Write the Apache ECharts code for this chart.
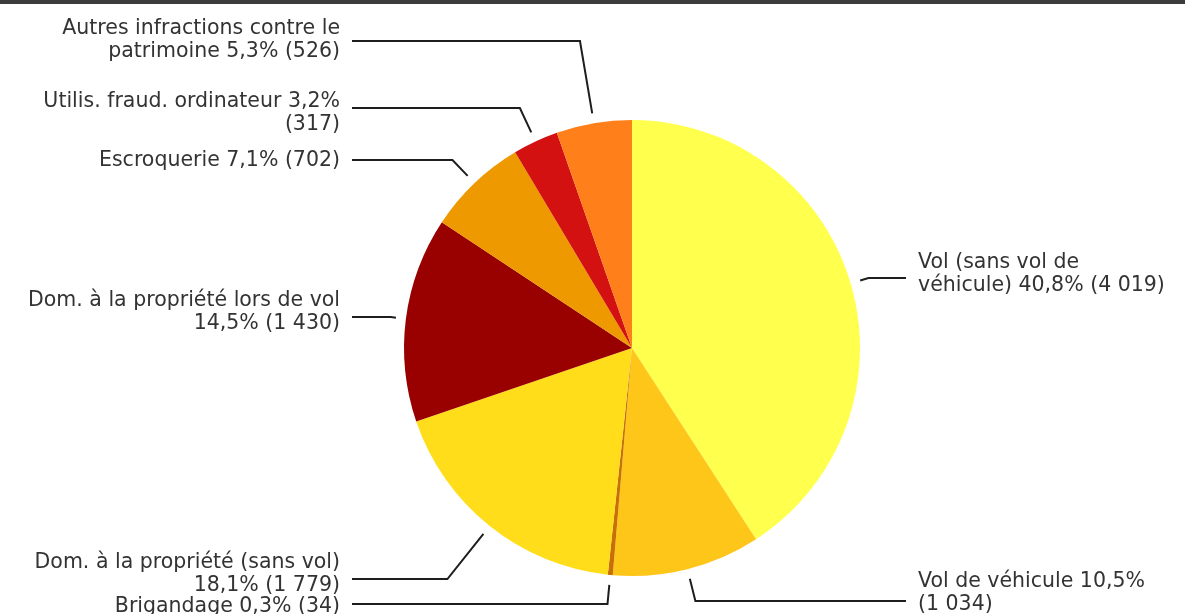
<!DOCTYPE html>
<html>
<head>
<meta charset="utf-8">
<script src="https://cdn.jsdelivr.net/npm/echarts@6/dist/echarts.min.js"></script>
<style>
html, body { margin: 0; padding: 0; background: #ffffff; }
#chart { width: 1185px; height: 614px; }
</style>
</head>
<body>
<div id="chart"></div>
<script>
// ---- Data ----
const categories = [
  'Vol (sans vol de véhicule)',
  'Vol de véhicule',
  'Brigandage',
  'Dom. à la propriété (sans vol)',
  'Dom. à la propriété lors de vol',
  'Escroquerie',
  'Utilis. fraud. ordinateur',
  'Autres infractions contre le patrimoine'
];
const values = [4019, 1034, 34, 1779, 1430, 702, 317, 526];

// ---- Style / layout ----
const palette = ['#FFFF4D', '#FFC61A', '#C87000', '#FFDD1A', '#990000', '#EE9900', '#D41111', '#FF801A'];
const CX = 632, CY = 348, R = 228, GAP = 10;
const LEFT_TEXT_X = 340, RIGHT_TEXT_X = 918;
const FONT_FAMILY = 'DejaVu Sans', FONT_SIZE = 20.5;
const WRAP = { left: 335, right: 252 };
// side of each label, y of its leader line and y of its text block centre
const placement = [
  { side: 'right', lineY: 278, textY: 274 },
  { side: 'right', lineY: 601, textY: 593 },
  { side: 'left',  lineY: 604, textY: 607 },
  { side: 'left',  lineY: 579, textY: 574 },
  { side: 'left',  lineY: 317, textY: 312 },
  { side: 'left',  lineY: 160, textY: 161 },
  { side: 'left',  lineY: 108, textY: 113 },
  { side: 'left',  lineY: 41,  textY: 40 }
];

const total = values.reduce((a, b) => a + b, 0);
function fmtInt(n) {
  return String(n).replace(/\B(?=(\d{3})+(?!\d))/g, '\u00a0');
}
function fmtPct(v) {
  return (v / total * 100).toFixed(1).replace('.', ',') + '%';
}

const measureCtx = document.createElement('canvas').getContext('2d');
measureCtx.font = FONT_SIZE + 'px "' + FONT_FAMILY + '"';
function wrapText(text, maxWidth) {
  const words = text.split(' ');
  const lines = [];
  let cur = '';
  words.forEach(w => {
    const test = cur ? cur + ' ' + w : w;
    if (cur && measureCtx.measureText(test).width > maxWidth) {
      lines.push(cur);
      cur = w;
    } else {
      cur = test;
    }
  });
  if (cur) lines.push(cur);
  return lines.join('\n');
}

const chart = echarts.init(document.getElementById('chart'), null, { renderer: 'canvas' });

chart.setOption({
  animation: false,
  color: palette,
  graphic: [{
    type: 'rect',
    shape: { x: 0, y: 0, width: 1185, height: 4 },
    style: { fill: '#3c3c3c' },
    silent: true
  }],
  series: [{
    type: 'pie',
    center: [CX, CY],
    radius: R,
    startAngle: 90,
    clockwise: true,
    avoidLabelOverlap: false,
    emphasis: { disabled: true },
    itemStyle: { borderWidth: 0 },
    label: {
      show: true,
      position: 'outside',
      color: '#333333',
      fontFamily: FONT_FAMILY,
      fontSize: FONT_SIZE,
      lineHeight: 23,
      formatter: p => wrapText(
        p.name + ' ' + fmtPct(p.value) + ' (' + fmtInt(p.value) + ')',
        WRAP[placement[p.dataIndex].side]
      )
    },
    labelLine: {
      show: true,
      length: 20,
      length2: 20,
      smooth: false,
      lineStyle: { color: '#1e1e1e', width: 2 }
    },
    labelLayout: function (params) {
      const pl = placement[params.dataIndex];
      const p0 = params.labelLinePoints[0];
      const dx = p0[0] - CX, dy = p0[1] - CY;
      const len = Math.hypot(dx, dy) || 1;
      const ux = dx / len, uy = dy / len;
      const rs = len + GAP;
      const start = [CX + ux * rs, CY + uy * rs];
      let t = Math.abs(uy) > 1e-6 ? (pl.lineY - CY) / uy : rs;
      if (!(t >= rs)) t = rs;
      const bend = [CX + ux * t, CY + uy * t];
      const left = pl.side === 'left';
      const end = [left ? LEFT_TEXT_X + 12 : RIGHT_TEXT_X - 12, bend[1]];
      return {
        x: left ? LEFT_TEXT_X : RIGHT_TEXT_X,
        y: pl.textY,
        align: left ? 'right' : 'left',
        verticalAlign: 'middle',
        labelLinePoints: [start, bend, end]
      };
    },
    data: categories.map((name, i) => ({ name: name, value: values[i] }))
  }]
});
</script>
</body>
</html>
